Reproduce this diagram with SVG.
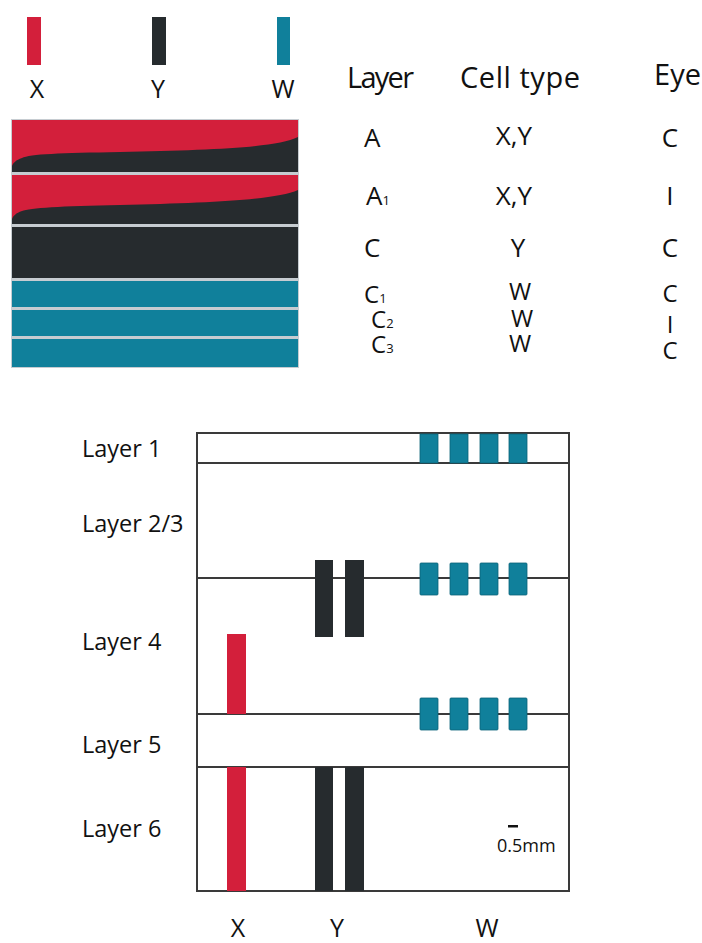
<svg xmlns="http://www.w3.org/2000/svg" width="702" height="943" viewBox="0 0 702 943">
<style>
text{font-family:"Open Sans","Noto Sans","Liberation Sans",sans-serif;fill:#111}
.big{font-size:25px}
.hd{font-size:29px}
.tb{font-size:26px}
.tbs{font-size:24px}
.lab{font-size:23.5px}
.sub{font-size:13px}
.red{fill:#d31f3b}
.blk{fill:#262b2e}
.teal{fill:#10809b;stroke:#0b6378;stroke-width:0.8}
.ln{stroke:#3a3a3a;stroke-width:2;fill:none}
</style>
<rect width="702" height="943" fill="#ffffff"/>
<g id="legend">
<rect x="27" y="17" width="14" height="48" class="red"/>
<rect x="152" y="17" width="14" height="48" class="blk"/>
<rect x="277" y="17" width="13" height="48" fill="#10809b"/>
<text x="37" y="98" class="big" text-anchor="middle">X</text>
<text x="158" y="98" class="big" text-anchor="middle">Y</text>
<text x="283" y="98" class="big" text-anchor="middle">W</text>
</g>
<g id="lgn-layers">
<rect x="11" y="119" width="288" height="249" fill="#c6ccd1"/>
<rect x="12" y="120" width="286" height="52" class="blk"/>
<path d="M12,120 H298 V137 C275,148 210,150 120,152 C60,153 30,154 22,158 C16,160 13,163 12,166 Z" class="red"/>
<rect x="12" y="175" width="286" height="49" class="blk"/>
<path d="M12,175 H298 V190 C275,200 210,203 120,205 C60,206 30,208 22,211 C16,213 13,216 12,219 Z" class="red"/>
<rect x="12" y="227" width="286" height="51" class="blk"/>
<rect x="12" y="281" width="286" height="26" fill="#10809b"/>
<rect x="12" y="310" width="286" height="26" fill="#10809b"/>
<rect x="12" y="339" width="286" height="28" fill="#10809b"/>
</g>
<g id="table">
<text x="347" y="88" class="hd" textLength="67">Layer</text>
<text x="460" y="88" class="hd" textLength="120">Cell type</text>
<text x="701" y="85" class="hd" text-anchor="end">Eye</text>
<text x="364" y="147" class="tb">A</text>
<text x="514" y="145" class="tb" text-anchor="middle">X,Y</text>
<text x="670" y="147" class="tb" text-anchor="middle">C</text>
<text x="366" y="205" class="tb">A<tspan class="sub">1</tspan></text>
<text x="514" y="205" class="tb" text-anchor="middle">X,Y</text>
<text x="670" y="205" class="tb" text-anchor="middle">I</text>
<text x="364" y="257" class="tb">C</text>
<text x="518" y="257" class="tb" text-anchor="middle">Y</text>
<text x="670" y="257" class="tb" text-anchor="middle">C</text>
<text x="364" y="303" class="tbs">C<tspan class="sub">1</tspan></text>
<text x="520" y="300" class="tbs" text-anchor="middle">W</text>
<text x="670" y="302" class="tbs" text-anchor="middle">C</text>
<text x="371" y="328" class="tbs">C<tspan class="sub">2</tspan></text>
<text x="522" y="327" class="tbs" text-anchor="middle">W</text>
<text x="670" y="333" class="tbs" text-anchor="middle">I</text>
<text x="371" y="353" class="tbs">C<tspan class="sub">3</tspan></text>
<text x="520" y="352" class="tbs" text-anchor="middle">W</text>
<text x="670" y="359" class="tbs" text-anchor="middle">C</text>
</g>
<g id="cortex-labels">
<text x="82" y="457" class="lab">Layer 1</text>
<text x="82" y="532" class="lab">Layer 2/3</text>
<text x="82" y="650" class="lab">Layer 4</text>
<text x="82" y="753" class="lab">Layer 5</text>
<text x="82" y="837" class="lab">Layer 6</text>
</g>
<g id="cortex-frame">
<rect x="197" y="433" width="372" height="458" class="ln"/>
<line x1="197" y1="463" x2="569" y2="463" class="ln"/>
<line x1="197" y1="578" x2="569" y2="578" class="ln"/>
<line x1="197" y1="714" x2="569" y2="714" class="ln"/>
<line x1="197" y1="767" x2="569" y2="767" class="ln"/>
</g>
<g id="x-cells">
<rect x="227" y="634" width="19" height="80" class="red"/>
<rect x="227" y="767" width="19" height="124" class="red"/>
</g>
<g id="y-cells">
<rect x="315" y="560" width="18" height="77" class="blk"/>
<rect x="345" y="560" width="19" height="77" class="blk"/>
<rect x="315" y="767" width="18" height="124" class="blk"/>
<rect x="345" y="767" width="19" height="124" class="blk"/>
</g>
<g id="w-cells">
<rect x="420" y="434" width="18" height="29" class="teal"/>
<rect x="450" y="434" width="18" height="29" class="teal"/>
<rect x="480" y="434" width="18" height="29" class="teal"/>
<rect x="509" y="434" width="18" height="29" class="teal"/>
<rect x="420" y="563" width="18" height="32" rx="1" class="teal"/>
<rect x="450" y="563" width="18" height="32" rx="1" class="teal"/>
<rect x="480" y="563" width="18" height="32" rx="1" class="teal"/>
<rect x="509" y="563" width="18" height="32" rx="1" class="teal"/>
<rect x="420" y="698" width="18" height="32" rx="1" class="teal"/>
<rect x="450" y="698" width="18" height="32" rx="1" class="teal"/>
<rect x="480" y="698" width="18" height="32" rx="1" class="teal"/>
<rect x="509" y="698" width="18" height="32" rx="1" class="teal"/>
</g>
<g id="scale">
<rect x="508" y="825" width="10" height="2.5" fill="#111"/>
<text x="497" y="852" font-size="18">0.5mm</text>
</g>
<g id="bottom-labels">
<text x="238" y="937" class="big" text-anchor="middle">X</text>
<text x="337" y="937" class="big" text-anchor="middle">Y</text>
<text x="487" y="937" class="big" text-anchor="middle">W</text>
</g>
</svg>
